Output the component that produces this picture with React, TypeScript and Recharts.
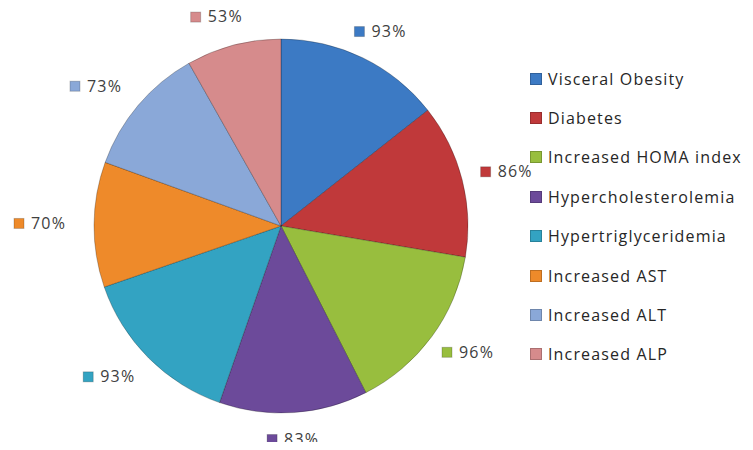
import React from "react";
import { PieChart, Pie, Cell } from "recharts";

const categories = [
  "Visceral Obesity",
  "Diabetes",
  "Increased HOMA index",
  "Hypercholesterolemia",
  "Hypertriglyceridemia",
  "Increased AST",
  "Increased ALT",
  "Increased ALP",
];
const percents = [93, 86, 96, 83, 93, 70, 73, 53];
const colors = [
  "#3C7AC4",
  "#C0393A",
  "#98BE3E",
  "#6C4A9A",
  "#33A3C2",
  "#EE8A2A",
  "#8AA8D8",
  "#D68B8C",
];

const data = categories.map((name, i) => ({ name, value: percents[i] }));

const FONT = "'Open Sans', Lato, sans-serif";
const RAD = Math.PI / 180;

// labels sit on an ellipse around the pie, wider at the sides
function renderLabel(props: any) {
  const { cx, cy, midAngle, outerRadius, value, index } = props;
  const rx = outerRadius + 50;
  const ry = outerRadius + 28;
  const x = cx + rx * Math.cos(-midAngle * RAD);
  const y = cy + ry * Math.sin(-midAngle * RAD);
  const left = x - 30;
  return (
    <g>
      <rect
        x={left}
        y={y - 6}
        width={10}
        height={10}
        fill={colors[index]}
        stroke="#00000033"
      />
      <text
        x={left + 17}
        y={y}
        dominantBaseline="middle"
        fontFamily={FONT}
        fontSize={16}
        letterSpacing={1.2}
        fill="#404040"
      >
        {value}%
      </text>
    </g>
  );
}

function LegendBox() {
  return (
    <div
      style={{
        position: "absolute",
        left: 530,
        top: 59,
        fontFamily: FONT,
        fontSize: 16,
        letterSpacing: 1.15,
        color: "#262626",
        whiteSpace: "nowrap",
      }}
    >
      {categories.map((name, i) => (
        <div
          key={name}
          style={{ display: "flex", alignItems: "center", height: 39.4 }}
        >
          <span
            style={{
              display: "inline-block",
              width: 10,
              height: 10,
              background: colors[i],
              border: "1px solid #00000033",
              marginRight: 6,
            }}
          />
          {name}
        </div>
      ))}
    </div>
  );
}

export default function App() {
  return (
    <div
      style={{
        margin: -8,
        width: 753,
        height: 450,
        background: "#fff",
        position: "relative",
        overflow: "hidden",
      }}
    >
      <PieChart
        width={753}
        height={450}
        margin={{ top: 0, right: 0, bottom: 0, left: 0 }}
      >
        <Pie
          data={data}
          dataKey="value"
          nameKey="name"
          cx={281}
          cy={226}
          outerRadius={187}
          startAngle={90}
          endAngle={-270}
          label={renderLabel}
          labelLine={false}
          isAnimationActive={false}
        >
          {data.map((d, i) => (
            <Cell key={d.name} fill={colors[i]} stroke="#00000040" strokeWidth={1} />
          ))}
        </Pie>
      </PieChart>
      <LegendBox />
    </div>
  );
}
